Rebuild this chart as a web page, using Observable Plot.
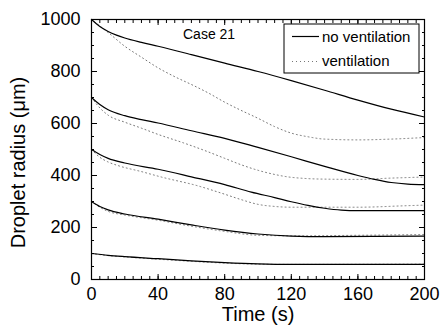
<!DOCTYPE html>
<html><head><meta charset="utf-8">
<script src="https://cdn.jsdelivr.net/npm/d3@7"></script>
<script src="https://cdn.jsdelivr.net/npm/@observablehq/plot@0.6"></script>
<style>body{margin:0;background:#fff}</style>
</head><body><div id="chart"></div>
<script>
// Time (s), radius (µm) pairs
const noVent1000 = [[0,1000],[5,973],[10,954],[15,940],[20,929],[30,912],[40,897],[60,865],[80,832],[100,800],[120,765],[140,728],[160,690],[180,655],[200,625]];
const vent1000   = [[0,1000],[5,975],[10,950],[20,897],[30,855],[40,814],[50,780],[60,750],[70,718],[80,682],[90,650],[100,620],[110,588],[120,563],[130,549],[140,540],[160,537],[180,540],[200,546]];
const noVent700  = [[0,700],[5,673],[10,653],[20,630],[30,615],[40,602],[60,572],[80,543],[100,508],[120,472],[140,435],[160,400],[170,385],[180,373],[190,367],[200,365]];
const vent700    = [[0,700],[5,660],[10,632],[20,605],[30,582],[40,558],[55,526],[68,496],[80,466],[90,441],[100,420],[110,404],[120,393],[140,386],[160,385],[180,390],[200,394]];
const noVent500  = [[0,500],[5,481],[10,466],[20,448],[40,424],[60,395],[80,365],[96,336],[110,315],[120,299],[130,285],[140,274],[150,267],[160,265],[200,265]];
const vent500    = [[0,500],[5,470],[10,452],[16,438],[30,415],[42,394],[64,360],[80,328],[90,307],[100,289],[110,281],[120,278],[160,278],[190,284],[200,286]];
const noVent300  = [[0,300],[5,281],[10,268],[20,252],[40,232],[60,210],[80,190],[100,175],[120,167],[140,165],[200,167]];
const vent300    = [[0,300],[5,278],[10,262],[20,248],[40,228],[60,205],[80,185],[100,170],[120,168],[160,170],[200,173]];
const noVent100  = [[0,100],[10,93],[20,88],[40,80],[60,72],[80,65],[100,60],[120,58],[200,58]];
const vent100    = [[0,100],[10,92],[20,87],[40,78],[60,70],[80,63],[100,59],[120,58],[200,59]];

const solidSeries = [noVent1000, noVent700, noVent500, noVent300, noVent100];
const dottedSeries = [vent1000, vent700, vent500, vent300, vent100];

const xMajor = [0,40,80,120,160,200];
const yMajor = [0,200,400,600,800,1000];
const xMinor = d3.range(0,201,5);
const yMinor = d3.range(0,1001,50);

const legendLabels = ["no ventilation","ventilation"];
const caseLabel = "Case 21";
const xTitle = "Time (s)";
const yTitle = "Droplet radius (\u03BCm)";

const toRows = (list) => list.flatMap((pts, i) => pts.map(([t, r]) => ({t, r, id: i})));
const solidRows = toRows(solidSeries);
const dottedRows = toRows(dottedSeries);

const font = "'Liberation Sans', Arial, Helvetica, sans-serif";
const dotColor = "#777";
const dotDash = "1,3";

const chart = Plot.plot({
  width: 440, height: 333,
  marginLeft: 91, marginRight: 16, marginTop: 19, marginBottom: 54,
  style: {fontFamily: font, background: "#fff", color: "#000"},
  x: {domain: [0, 200]},
  y: {domain: [0, 1000]},
  marks: [
    Plot.line(dottedRows, {x: "t", y: "r", z: "id", curve: "monotone-x", stroke: dotColor, strokeWidth: 1, strokeDasharray: dotDash}),
    Plot.line(solidRows, {x: "t", y: "r", z: "id", curve: "monotone-x", stroke: "#000", strokeWidth: 1.2}),
    // inward minor / major ticks on all sides
    Plot.axisX({anchor: "bottom", ticks: xMinor, tickSize: -3, text: null, label: null}),
    Plot.axisX({anchor: "bottom", ticks: xMajor, tickSize: -5, text: null, label: null}),
    Plot.axisX({anchor: "top", ticks: xMinor, tickSize: -3, text: null, label: null}),
    Plot.axisX({anchor: "top", ticks: xMajor, tickSize: -5, text: null, label: null}),
    Plot.axisY({anchor: "left", ticks: yMinor, tickSize: -3, text: null, label: null}),
    Plot.axisY({anchor: "left", ticks: yMajor, tickSize: -6, text: null, label: null}),
    Plot.axisY({anchor: "right", ticks: yMinor, tickSize: -3, text: null, label: null}),
    Plot.axisY({anchor: "right", ticks: yMajor, tickSize: -6, text: null, label: null}),
    // tick labels
    Plot.axisX({anchor: "bottom", ticks: xMajor, tickSize: 0, tickPadding: 8, fontSize: 18, label: null, tickFormat: d3.format("d")}),
    Plot.axisY({anchor: "left", ticks: yMajor, tickSize: 0, tickPadding: 11, fontSize: 18, label: null, tickFormat: d3.format("d")}),
    Plot.text([xTitle], {frameAnchor: "bottom", dy: 41, fontSize: 20, textAnchor: "middle"}),
    Plot.text([yTitle], {frameAnchor: "left", dx: -73, dy: 13, rotate: -90, fontSize: 20, textAnchor: "middle"}),
    Plot.frame({stroke: "#000", strokeWidth: 1.2})
  ]
});

const svg = d3.select(chart);
svg.append("text").attr("x", 183).attr("y", 39).attr("text-anchor", "start").attr("font-size", 14).attr("font-family", font).text(caseLabel);
const lg = svg.append("g").attr("font-family", font).attr("font-size", 15).attr("text-anchor", "start");
lg.append("rect").attr("x", 284).attr("y", 24).attr("width", 135).attr("height", 49).attr("fill", "#fff").attr("stroke", "#000").attr("stroke-width", 1);
lg.append("line").attr("x1", 292).attr("x2", 319).attr("y1", 36.5).attr("y2", 36.5).attr("stroke", "#000").attr("stroke-width", 1.2);
lg.append("line").attr("x1", 292).attr("x2", 319).attr("y1", 61.5).attr("y2", 61.5).attr("stroke", dotColor).attr("stroke-width", 1).attr("stroke-dasharray", dotDash);
lg.append("text").attr("x", 322).attr("y", 42).text(legendLabels[0]);
lg.append("text").attr("x", 322).attr("y", 66).text(legendLabels[1]);

document.getElementById("chart").appendChild(chart);
</script>
</body></html>
